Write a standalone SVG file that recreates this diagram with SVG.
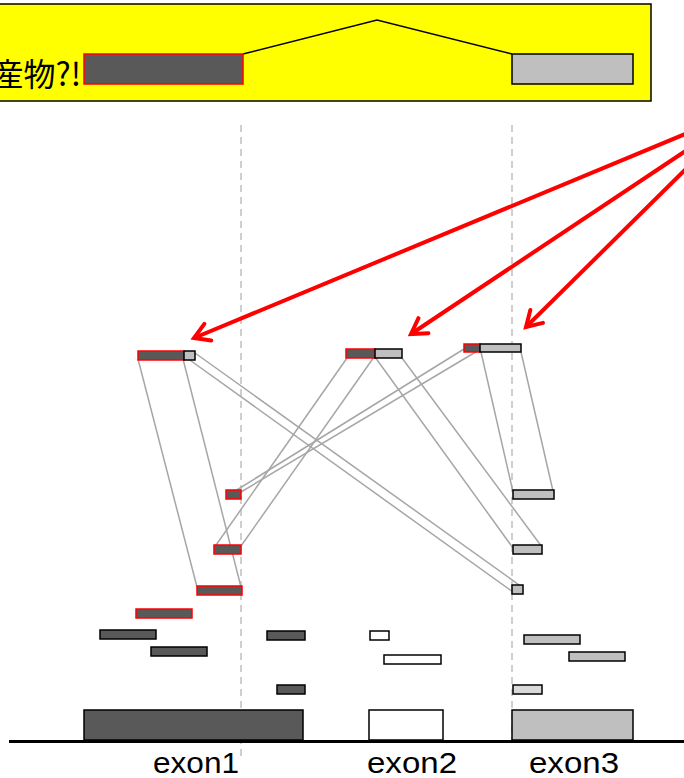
<svg xmlns="http://www.w3.org/2000/svg" width="684" height="778" viewBox="0 0 684 778">
<style>
.dk{fill:#595959;stroke:#000;stroke-width:1.5}
.dkr{fill:#595959;stroke:#ff0000;stroke-width:1.5}
.lg{fill:#bfbfbf;stroke:#000;stroke-width:1.5}
.ll{fill:#d9d9d9;stroke:#000;stroke-width:1.5}
.wh{fill:#fff;stroke:#000;stroke-width:1.5}
.cn{stroke:#a6a6a6;stroke-width:1.5;fill:none}
.dash{stroke:#c0c0c0;stroke-width:1.5;stroke-dasharray:7,5;fill:none}
.arr{stroke:#ff0000;stroke-width:4;fill:none}
.lbl{font-family:"Liberation Sans","DejaVu Sans",sans-serif;font-size:29px;fill:#000;text-anchor:middle}
</style>
<defs>
<marker id="ah" markerUnits="userSpaceOnUse" markerWidth="40" markerHeight="40" viewBox="-20 -20 40 40" refX="0" refY="0" orient="auto">
<path d="M-15,-9 L0,0 L-15,9" stroke="#ff0000" stroke-width="4" fill="none" stroke-linecap="round" stroke-linejoin="miter"/>
</marker>
</defs>
<g id="guides">
<line class="dash" x1="241" y1="125" x2="241" y2="758"/>
<line class="dash" x1="512" y1="125" x2="512" y2="740"/>
</g>
<g id="banner">
<rect x="-2" y="4" width="653" height="97" fill="#ffff00" stroke="#000" stroke-width="1.5"/>
<text x="81" y="86" font-family="'Noto Sans CJK JP',sans-serif" font-size="32" text-anchor="end" fill="#000">人工産物?!</text>
<polyline points="243,54 377,20 512,54" fill="none" stroke="#000" stroke-width="1.5"/>
<rect x="84" y="54" width="159" height="30" fill="#595959" stroke="#ff0000" stroke-width="1.5"/>
<rect x="512" y="54" width="121" height="30" fill="#bfbfbf" stroke="#000" stroke-width="1.5"/>
</g>
<g id="connectors">
<line class="cn" x1="138" y1="359" x2="197" y2="587"/>
<line class="cn" x1="183" y1="359" x2="241" y2="587"/>
<line class="cn" x1="187" y1="358" x2="513" y2="592"/>
<line class="cn" x1="195" y1="353" x2="522" y2="587"/>
<line class="cn" x1="347" y1="358" x2="214" y2="548"/>
<line class="cn" x1="374" y1="357" x2="241" y2="546"/>
<line class="cn" x1="375" y1="357" x2="513" y2="548"/>
<line class="cn" x1="402" y1="358" x2="542" y2="547"/>
<line class="cn" x1="464" y1="349" x2="227" y2="496"/>
<line class="cn" x1="479" y1="350" x2="241" y2="492"/>
<line class="cn" x1="481" y1="352" x2="513" y2="492"/>
<line class="cn" x1="521" y1="352" x2="553" y2="491"/>
</g>
<g id="splitA">
<rect class="dkr" x="138" y="351" width="46" height="9"/>
<rect class="lg" x="184" y="351" width="11" height="9"/>
</g>
<g id="splitB">
<rect class="dkr" x="346" y="349" width="29" height="9"/>
<rect class="lg" x="375" y="349" width="27" height="9"/>
</g>
<g id="splitC">
<rect class="dkr" x="464" y="344" width="16" height="8"/>
<rect class="lg" x="480" y="344" width="41" height="8"/>
</g>
<g id="e1reads">
<rect class="dkr" x="226" y="490" width="15" height="9"/>
<rect class="dkr" x="214" y="545" width="27" height="9"/>
<rect class="dkr" x="197" y="586" width="45" height="9"/>
</g>
<g id="e3reads">
<rect class="lg" x="513" y="490" width="41" height="9"/>
<rect class="lg" x="513" y="545" width="29" height="9"/>
<rect class="lg" x="512" y="585" width="11" height="9"/>
</g>
<g id="reads">
<rect class="dkr" x="136" y="609" width="56" height="9"/>
<rect class="dk" x="100" y="630" width="56" height="9"/>
<rect class="dk" x="151" y="647" width="56" height="9"/>
<rect class="dk" x="267" y="631" width="38" height="9"/>
<rect class="dk" x="277" y="685" width="28" height="9"/>
<rect class="wh" x="370" y="631" width="19" height="9"/>
<rect class="wh" x="384" y="655" width="57" height="9"/>
<rect class="lg" x="524" y="635" width="56" height="9"/>
<rect class="lg" x="569" y="652" width="56" height="9"/>
<rect class="ll" x="513" y="685" width="29" height="9"/>
</g>
<g id="arrows">
<line class="arr" x1="690" y1="132" x2="194" y2="338" marker-end="url(#ah)"/>
<line class="arr" x1="690" y1="148" x2="411" y2="334" marker-end="url(#ah)"/>
<line class="arr" x1="690" y1="165" x2="526" y2="327" marker-end="url(#ah)"/>
</g>
<g id="gene">
<rect id="exon1" x="84" y="710" width="219" height="30" fill="#595959" stroke="#000" stroke-width="1.5"/>
<rect id="exon2" x="369" y="710" width="74" height="30" fill="#fff" stroke="#000" stroke-width="1.5"/>
<rect id="exon3" x="512" y="710" width="121" height="30" fill="#bfbfbf" stroke="#000" stroke-width="1.5"/>
<line x1="9" y1="741.5" x2="684" y2="741.5" stroke="#000" stroke-width="3"/>
<text class="lbl" x="196" y="773" textLength="86" lengthAdjust="spacingAndGlyphs">exon1</text>
<text class="lbl" x="412" y="773" textLength="90" lengthAdjust="spacingAndGlyphs">exon2</text>
<text class="lbl" x="574" y="773" textLength="90" lengthAdjust="spacingAndGlyphs">exon3</text>
</g>
</svg>
